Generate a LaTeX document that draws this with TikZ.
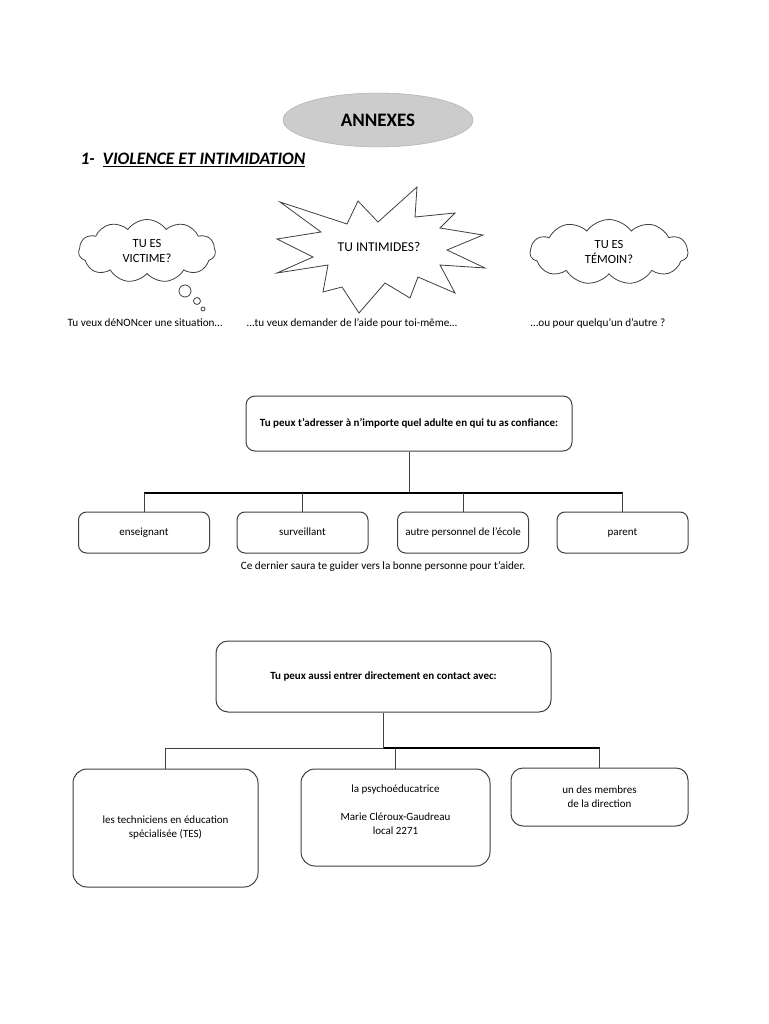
\documentclass[tikz,border=0pt]{standalone}
\usepackage{fontspec}
\setmainfont{Carlito}
\usetikzlibrary{shapes.geometric,shapes.symbols}
\tikzset{
  boite/.style={draw=black!75,line width=1pt,rounded corners=9pt,align=center,font=\fontsize{11}{14}\selectfont},
  gras/.style={font=\fontsize{11}{13}\selectfont\bfseries},
  bulle/.style={cloud,cloud puffs=11,cloud puff arc=110,aspect=2.2,draw=black!75,line width=.8pt,align=center,font=\fontsize{12.5}{15}\selectfont,inner sep=0pt},
  legende/.style={font=\fontsize{11.2}{13}\selectfont},
  trait/.style={black!75,line width=1pt},
  barre/.style={black,line width=2pt}
}

\begin{document}
\begin{tikzpicture}[x=1pt,y=-1pt]
\useasboundingbox (0,0) rectangle (768,1024);
\fill[white] (0,0) rectangle (768,1024);
\node[ellipse,draw=black!35,fill=black!20,minimum width=190,minimum height=54,font=\fontsize{19}{19}\selectfont\bfseries] (annexes) at (378,120) {ANNEXES};
\node[anchor=west,font=\fontsize{17.5}{19}\selectfont\bfseries\itshape] (titre) at (77,160) {1-\ \ \underline{VIOLENCE ET INTIMIDATION}};

\node[bulle,minimum width=137,minimum height=63] (victime) at (147,251) {TU ES\\VICTIME?};
\draw[trait,line width=.8pt] (185,291) circle (6) (197,301) circle (3.5) (203,309) circle (2);
\draw[trait,line width=.8pt] (280,202) -- (347,224) -- (358,201) -- (378,222) -- (417,187) -- (415,217) -- (455,213) -- (440,228) -- (483,235) -- (447,250) -- (485,268) -- (440,265) -- (455,293) -- (418,277) -- (410,298) -- (385,283) -- (359,313) -- (342,287) -- (323,292) -- (328,265) -- (277,273) -- (313,257) -- (277,239) -- (321,232) -- cycle;
\node[font=\fontsize{13.5}{15}\selectfont] (intimide) at (379,247) {TU INTIMIDES?};
\node[bulle,minimum width=158,minimum height=65] (temoin) at (609,252) {TU ES\\TÉMOIN?};

\node[legende] (denoncer) at (145,323) {Tu veux déNONcer une situation…};
\node[legende] (aide) at (352,323) {…tu veux demander de l’aide pour toi-même…};
\node[legende] (autrui) at (598,323) {…ou pour quelqu’un d’autre ?};

\node[boite,gras,minimum width=326,minimum height=55] (adulte) at (409,423.5) {Tu peux t’adresser à n’importe quel adulte en qui tu as confiance:};
\foreach \n/\x/\t in {ens/144/enseignant,surv/302.5/surveillant,autre/463/autre personnel de l’école,par/622.5/parent}
  \node[boite,minimum width=131,minimum height=41,rounded corners=8pt,text height=1.6ex,text depth=.4ex] (\n) at (\x,532.5) {\t};
\coordinate (b1) at (409,493);
\draw[trait] (adulte.south) -- (b1);
\draw[barre] (ens.north |- b1) -- (par.north |- b1);
\foreach \n in {ens,surv,autre,par}
  \draw[trait] (\n.north |- b1) -- (\n.north);
\node[legende] (guide) at (383,567) {Ce dernier saura te guider vers la bonne personne pour t’aider.};

\node[boite,gras,minimum width=335,minimum height=71,rounded corners=12pt] (contact) at (383.5,676.5) {Tu peux aussi entrer directement en contact avec:};
\node[boite,minimum width=185,minimum height=118,rounded corners=14pt] (tes) at (165.5,828) {les techniciens en éducation\\spécialisée (TES)};
\node[boite,minimum width=189,minimum height=97,rounded corners=14pt] (psy) at (395.5,817.5) {};
\node[align=center,font=\fontsize{11}{14}\selectfont] (psytxt) at ([yshift=7.5pt]psy.center) {la psychoéducatrice\\[14pt]Marie Cléroux-Gaudreau\\local 2271};
\node[boite,minimum width=177,minimum height=58,rounded corners=12pt] (dir) at (599.5,797) {un des membres\\de la direction};
\coordinate (b2) at (384,748);
\draw[trait] (contact.south) -- (contact.south |- b2);
\draw[trait] (tes.north |- b2) -- (contact.south |- b2);
\draw[barre,line width=1.8pt] (contact.south |- b2) -- (dir.north |- b2);
\foreach \n in {tes,psy,dir}
  \draw[trait] (\n.north |- b2) -- (\n.north);
\end{tikzpicture}
\end{document}
